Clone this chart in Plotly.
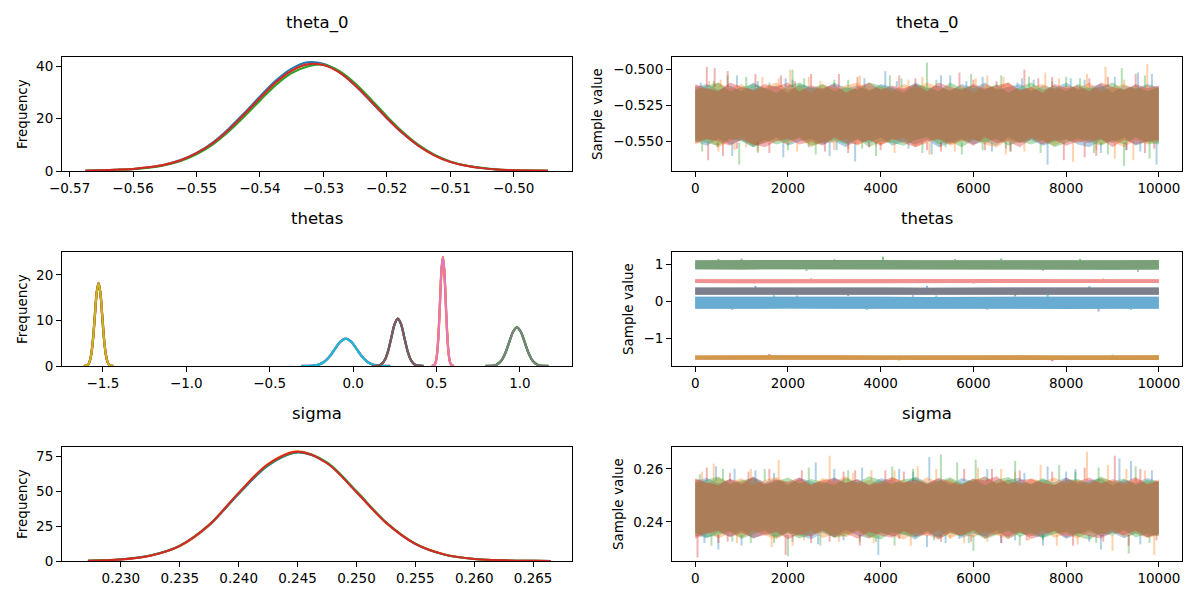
import numpy as np
import plotly.graph_objs as go

# matplotlib tab10 colours
blue, orange, green, red = '#1f77b4', '#ff7f0e', '#2ca02c', '#d62728'
purple, brown, pink, gray, olive, cyan = '#9467bd', '#8c564b', '#e377c2', '#7f7f7f', '#bcbd22', '#17becf'
chain_colors = [blue, orange, green, red]
ALPHA = 0.35

# ---------------- theta_0 : density per chain ----------------
theta0_kde_x = [-0.5675, -0.565, -0.5625, -0.56, -0.5575, -0.555, -0.5525, -0.55, -0.5475, -0.545,
                -0.5425, -0.54, -0.5375, -0.535, -0.5325, -0.53, -0.5275, -0.525, -0.5225, -0.52,
                -0.5175, -0.515, -0.5125, -0.51, -0.5075, -0.505, -0.5025, -0.50, -0.4975, -0.4946]
theta0_kde_0 = [0.1, 0.3, 0.5, 0.8, 1.4, 2.5, 4.2, 6.9, 10.8, 16.0, 22.1, 28.5, 34.6, 39.2, 41.6,
                41.0, 37.9, 32.7, 26.5, 20.2, 14.4, 9.6, 6.0, 3.5, 2.0, 1.1, 0.5, 0.25, 0.1, 0.05]
theta0_kde_1 = [0.1, 0.3, 0.5, 0.8, 1.4, 2.4, 4.0, 6.7, 10.4, 15.4, 21.4, 27.6, 33.6, 38.2, 40.7,
                40.6, 37.9, 33.0, 26.9, 20.5, 14.6, 9.7, 6.0, 3.5, 2.0, 1.1, 0.55, 0.3, 0.15, 0.05]
theta0_kde_2 = [0.1, 0.25, 0.45, 0.7, 1.2, 2.2, 3.8, 6.4, 10.0, 14.9, 20.7, 26.9, 32.8, 37.4, 40.0,
                40.6, 38.3, 33.6, 27.5, 21.0, 15.0, 10.0, 6.3, 3.7, 2.1, 1.2, 0.6, 0.3, 0.15, 0.05]
theta0_kde_3 = [0.1, 0.3, 0.5, 0.8, 1.4, 2.4, 4.1, 6.8, 10.5, 15.6, 21.6, 27.9, 33.9, 38.4, 40.8,
                40.5, 37.7, 32.8, 26.7, 20.3, 14.5, 9.65, 6.0, 3.5, 2.0, 1.1, 0.55, 0.3, 0.15, 0.05]

# ---------------- thetas : density per component ----------------
thetas_kde_x = [
    [-1.614, -1.592, -1.581, -1.570, -1.559, -1.548, -1.537, -1.526, -1.515, -1.504, -1.493, -1.482, -1.471, -1.460, -1.438],
    [-0.310, -0.2435, -0.2103, -0.177, -0.1438, -0.1105, -0.0773, -0.044, -0.0108, 0.0225, 0.0558, 0.089, 0.1223, 0.1555, 0.222],
    [0.1144, 0.1528, 0.172, 0.1912, 0.2104, 0.2296, 0.2488, 0.268, 0.2872, 0.3064, 0.3256, 0.3448, 0.364, 0.3832, 0.4216],
    [0.4716, 0.4882, 0.4965, 0.5048, 0.5131, 0.5214, 0.5297, 0.538, 0.5463, 0.5546, 0.5629, 0.5712, 0.5795, 0.5878, 0.6044],
    [0.7932, 0.8404, 0.864, 0.8876, 0.9112, 0.9348, 0.9584, 0.982, 1.0056, 1.0292, 1.0528, 1.0764, 1.1, 1.1236, 1.1708],
]
thetas_kde_y = [
    [0.006, 0.20, 0.80, 2.46, 5.91, 11.04, 16.06, 18.2, 16.06, 11.04, 5.91, 2.46, 0.80, 0.20, 0.006],
    [0.002, 0.067, 0.26, 0.81, 1.95, 3.64, 5.30, 6.0, 5.30, 3.64, 1.95, 0.81, 0.26, 0.067, 0.002],
    [0.003, 0.115, 0.46, 1.41, 3.38, 6.31, 9.18, 10.4, 9.18, 6.31, 3.38, 1.41, 0.46, 0.115, 0.003],
    [0.008, 0.27, 1.05, 3.23, 7.76, 14.50, 21.09, 23.9, 21.09, 14.50, 7.76, 3.23, 1.05, 0.27, 0.008],
    [0.003, 0.094, 0.37, 1.14, 2.74, 5.12, 7.46, 8.45, 7.46, 5.12, 2.74, 1.14, 0.37, 0.094, 0.003],
]
# colour for even chains / odd chains of each component
thetas_col_a = [red, purple, blue, orange, green]
thetas_col_b = [olive, cyan, brown, pink, gray]

# ---------------- sigma : density per chain ----------------
sigma_kde_x = [0.2272, 0.2300, 0.2325, 0.2350, 0.2375, 0.2400, 0.2425, 0.2450, 0.2475, 0.2500,
               0.2525, 0.2550, 0.2575, 0.2600, 0.2625, 0.2650, 0.2665]
sigma_kde_0 = [0.2, 1.1, 3.9, 10.8, 25.6, 48.2, 68.6, 78.0, 70.5, 49.8, 27.7, 12.2, 4.5, 1.4, 0.45, 0.15, 0.05]
sigma_kde_1 = [0.2, 1.1, 3.8, 10.7, 25.8, 49.0, 69.9, 78.9, 70.6, 49.6, 27.5, 12.4, 4.7, 1.5, 0.5, 0.2, 0.07]
sigma_kde_2 = [0.2, 1.2, 4.0, 11.1, 26.2, 48.8, 69.2, 78.3, 71.0, 50.3, 28.0, 12.5, 4.6, 1.5, 0.45, 0.12, 0.03]
sigma_kde_3 = [0.2, 1.1, 3.8, 10.9, 26.0, 49.0, 69.6, 78.5, 70.3, 49.5, 27.6, 12.3, 4.6, 1.5, 0.45, 0.15, 0.05]

# ---------------- traces: band envelope (every 250 draws) + spikes ----------------
DRAWS = [0, 250, 500, 750, 1000, 1250, 1500, 1750, 2000, 2250, 2500, 2750, 3000, 3250, 3500, 3750,
         4000, 4250, 4500, 4750, 5000, 5250, 5500, 5750, 6000, 6250, 6500, 6750, 7000, 7250, 7500,
         7750, 8000, 8250, 8500, 8750, 9000, 9250, 9500, 9750, 10000]

theta0_hi = [
    [-0.512, -0.510, -0.514, -0.511, -0.515, -0.509, -0.513, -0.511, -0.516, -0.510,
     -0.512, -0.514, -0.509, -0.513, -0.511, -0.515, -0.510, -0.512, -0.514, -0.509,
     -0.513, -0.511, -0.515, -0.510, -0.513, -0.509, -0.514, -0.512, -0.510, -0.515,
     -0.511, -0.513, -0.509, -0.514, -0.512, -0.510, -0.516, -0.511, -0.513, -0.510, -0.512],
    [-0.511, -0.514, -0.509, -0.513, -0.510, -0.515, -0.512, -0.509, -0.514, -0.511,
     -0.516, -0.510, -0.513, -0.511, -0.509, -0.514, -0.512, -0.515, -0.510, -0.513,
     -0.509, -0.512, -0.514, -0.511, -0.516, -0.510, -0.513, -0.509, -0.515, -0.512,
     -0.510, -0.514, -0.511, -0.513, -0.509, -0.515, -0.512, -0.510, -0.514, -0.511, -0.513],
    [-0.514, -0.511, -0.509, -0.515, -0.512, -0.510, -0.513, -0.516, -0.511, -0.509,
     -0.513, -0.510, -0.515, -0.512, -0.514, -0.509, -0.511, -0.513, -0.516, -0.510,
     -0.512, -0.515, -0.509, -0.513, -0.511, -0.514, -0.510, -0.516, -0.512, -0.509,
     -0.514, -0.511, -0.515, -0.510, -0.513, -0.512, -0.509, -0.514, -0.511, -0.515, -0.512],
    [-0.510, -0.513, -0.515, -0.509, -0.512, -0.514, -0.510, -0.512, -0.509, -0.515,
     -0.511, -0.513, -0.510, -0.516, -0.512, -0.509, -0.514, -0.511, -0.513, -0.510,
     -0.515, -0.509, -0.512, -0.514, -0.510, -0.513, -0.511, -0.509, -0.514, -0.512,
     -0.516, -0.510, -0.513, -0.511, -0.515, -0.509, -0.512, -0.514, -0.510, -0.513, -0.511]]
theta0_lo = [
    [-0.550, -0.553, -0.548, -0.552, -0.549, -0.554, -0.551, -0.547, -0.553, -0.550,
     -0.548, -0.552, -0.550, -0.554, -0.549, -0.551, -0.547, -0.553, -0.550, -0.552,
     -0.549, -0.554, -0.551, -0.548, -0.552, -0.550, -0.553, -0.547, -0.551, -0.549,
     -0.553, -0.550, -0.548, -0.552, -0.554, -0.549, -0.551, -0.547, -0.553, -0.550, -0.551],
    [-0.552, -0.549, -0.554, -0.550, -0.547, -0.553, -0.551, -0.549, -0.552, -0.548,
     -0.554, -0.550, -0.551, -0.548, -0.553, -0.549, -0.552, -0.550, -0.547, -0.554,
     -0.551, -0.549, -0.553, -0.550, -0.548, -0.552, -0.554, -0.549, -0.551, -0.547,
     -0.550, -0.553, -0.549, -0.551, -0.548, -0.552, -0.550, -0.554, -0.549, -0.552, -0.550],
    [-0.549, -0.551, -0.553, -0.548, -0.550, -0.554, -0.549, -0.552, -0.550, -0.547,
     -0.553, -0.551, -0.549, -0.552, -0.548, -0.554, -0.550, -0.551, -0.553, -0.549,
     -0.547, -0.552, -0.550, -0.554, -0.549, -0.551, -0.548, -0.553, -0.550, -0.552,
     -0.549, -0.554, -0.551, -0.548, -0.550, -0.553, -0.549, -0.552, -0.547, -0.551, -0.552],
    [-0.551, -0.548, -0.550, -0.553, -0.549, -0.552, -0.554, -0.550, -0.548, -0.552,
     -0.550, -0.553, -0.547, -0.551, -0.552, -0.549, -0.553, -0.548, -0.551, -0.554,
     -0.550, -0.548, -0.552, -0.549, -0.553, -0.547, -0.551, -0.550, -0.554, -0.548,
     -0.552, -0.549, -0.553, -0.550, -0.551, -0.548, -0.554, -0.549, -0.552, -0.550, -0.549]]
theta0_spk_it_0 = [120, 480, 800, 900, 1350, 1900, 1950, 2450, 2900, 3450, 3650, 4100, 4600, 5100, 5500,
                   5850, 6200, 6400, 6950, 7300, 7600, 8100, 8750, 9050, 9550, 9600, 9850, 9950,
                   2100, 3050, 4350, 5300, 6700, 7050, 8400, 9300]
theta0_spk_val_0 = [-0.509, -0.554, -0.560, -0.504, -0.508, -0.561, -0.506, -0.554, -0.560, -0.564, -0.506,
                    -0.501, -0.555, -0.559, -0.504, -0.508, -0.505, -0.557, -0.509, -0.507, -0.566, -0.506,
                    -0.558, -0.505, -0.502, -0.557, -0.503, -0.566,
                    -0.507, -0.556, -0.508, -0.504, -0.555, -0.506, -0.507, -0.556]
theta0_spk_it_1 = [300, 500, 550, 1100, 1350, 1450, 2050, 2200, 2700, 3000, 3550, 3900, 4300, 4900, 5300,
                   5600, 6050, 6650, 6700, 7100, 7550, 8150, 8450, 8850, 9050, 9450, 9750,
                   850, 1800, 2450, 3300, 4600, 5050, 6300, 7850, 8650, 9250]
theta0_spk_val_1 = [-0.508, -0.557, -0.507, -0.554, -0.558, -0.505, -0.500, -0.557, -0.508, -0.556, -0.504,
                    -0.553, -0.558, -0.505, -0.554, -0.557, -0.506, -0.505, -0.559, -0.557, -0.502, -0.564,
                    -0.503, -0.498, -0.562, -0.563, -0.496,
                    -0.556, -0.506, -0.505, -0.555, -0.507, -0.559, -0.504, -0.506, -0.556, -0.507]
theta0_spk_it_2 = [150, 400, 950, 1100, 1600, 2000, 2100, 2600, 3000, 3300, 3900, 4450, 4900, 5000, 5400,
                   5750, 5950, 6600, 6800, 7200, 7700, 8300, 8900, 9200, 9250, 9700, 9800,
                   700, 1350, 2350, 3600, 4200, 5200, 6200, 7450, 8000, 8600]
theta0_spk_val_2 = [-0.557, -0.508, -0.566, -0.505, -0.509, -0.556, -0.500, -0.559, -0.507, -0.507, -0.560,
                    -0.506, -0.558, -0.495, -0.554, -0.559, -0.503, -0.504, -0.557, -0.505, -0.508, -0.506,
                    -0.559, -0.499, -0.567, -0.504, -0.562,
                    -0.504, -0.557, -0.506, -0.555, -0.504, -0.507, -0.556, -0.558, -0.505, -0.558]
theta0_spk_it_3 = [250, 280, 420, 600, 700, 1300, 1600, 2150, 2500, 3100, 3300, 3750, 4000, 4750, 5300,
                   5700, 6250, 6500, 7100, 7700, 7950, 8400, 8500, 8650, 9300, 9500, 9900,
                   900, 1850, 2800, 3500, 4400, 5000, 6000, 6800, 7400, 8900, 9700]
theta0_spk_val_3 = [-0.498, -0.563, -0.499, -0.560, -0.501, -0.503, -0.558, -0.508, -0.503, -0.503, -0.558,
                    -0.554, -0.556, -0.506, -0.557, -0.502, -0.556, -0.508, -0.500, -0.505, -0.563, -0.561,
                    -0.506, -0.560, -0.556, -0.503, -0.555,
                    -0.555, -0.504, -0.557, -0.505, -0.504, -0.556, -0.507, -0.557, -0.506, -0.505, -0.558]

sigma_hi = [
    [0.2556, 0.2566, 0.2545, 0.2561, 0.2540, 0.2570, 0.2551, 0.2563, 0.2538, 0.2567,
     0.2553, 0.2544, 0.2568, 0.2550, 0.2560, 0.2541, 0.2565, 0.2555, 0.2546, 0.2571,
     0.2549, 0.2562, 0.2539, 0.2566, 0.2552, 0.2572, 0.2543, 0.2558, 0.2567, 0.2540,
     0.2561, 0.2550, 0.2569, 0.2544, 0.2557, 0.2564, 0.2537, 0.2560, 0.2548, 0.2566, 0.2553],
    [0.2562, 0.2543, 0.2568, 0.2551, 0.2565, 0.2539, 0.2558, 0.2570, 0.2547, 0.2560,
     0.2538, 0.2566, 0.2552, 0.2572, 0.2545, 0.2559, 0.2541, 0.2567, 0.2554, 0.2544,
     0.2569, 0.2550, 0.2563, 0.2542, 0.2557, 0.2571, 0.2548, 0.2561, 0.2539, 0.2565,
     0.2552, 0.2568, 0.2545, 0.2559, 0.2541, 0.2566, 0.2554, 0.2540, 0.2563, 0.2549, 0.2560],
    [0.2548, 0.2560, 0.2571, 0.2542, 0.2557, 0.2565, 0.2540, 0.2553, 0.2568, 0.2545,
     0.2562, 0.2551, 0.2539, 0.2566, 0.2549, 0.2572, 0.2556, 0.2543, 0.2561, 0.2567,
     0.2541, 0.2555, 0.2569, 0.2546, 0.2563, 0.2538, 0.2559, 0.2570, 0.2550, 0.2544,
     0.2566, 0.2540, 0.2557, 0.2562, 0.2547, 0.2571, 0.2552, 0.2564, 0.2539, 0.2558, 0.2550],
    [0.2565, 0.2550, 0.2539, 0.2563, 0.2548, 0.2571, 0.2544, 0.2559, 0.2552, 0.2569,
     0.2541, 0.2557, 0.2566, 0.2546, 0.2562, 0.2538, 0.2553, 0.2570, 0.2549, 0.2560,
     0.2544, 0.2567, 0.2551, 0.2540, 0.2564, 0.2556, 0.2572, 0.2543, 0.2558, 0.2562,
     0.2547, 0.2539, 0.2565, 0.2553, 0.2568, 0.2545, 0.2561, 0.2550, 0.2570, 0.2541, 0.2556]]
sigma_lo = [
    [0.2350, 0.2338, 0.2361, 0.2344, 0.2367, 0.2336, 0.2355, 0.2341, 0.2364, 0.2347,
     0.2334, 0.2358, 0.2343, 0.2369, 0.2349, 0.2337, 0.2362, 0.2346, 0.2353, 0.2333,
     0.2360, 0.2342, 0.2366, 0.2339, 0.2354, 0.2345, 0.2368, 0.2335, 0.2357, 0.2348,
     0.2340, 0.2363, 0.2336, 0.2351, 0.2370, 0.2344, 0.2359, 0.2338, 0.2356, 0.2343, 0.2352],
    [0.2343, 0.2362, 0.2337, 0.2356, 0.2340, 0.2366, 0.2348, 0.2334, 0.2359, 0.2345,
     0.2368, 0.2339, 0.2353, 0.2342, 0.2363, 0.2336, 0.2357, 0.2347, 0.2333, 0.2361,
     0.2344, 0.2369, 0.2338, 0.2355, 0.2341, 0.2364, 0.2350, 0.2335, 0.2358, 0.2346,
     0.2367, 0.2340, 0.2354, 0.2337, 0.2362, 0.2349, 0.2371, 0.2343, 0.2356, 0.2339, 0.2348],
    [0.2358, 0.2341, 0.2349, 0.2365, 0.2335, 0.2353, 0.2368, 0.2340, 0.2357, 0.2337,
     0.2351, 0.2364, 0.2339, 0.2347, 0.2370, 0.2344, 0.2333, 0.2360, 0.2352, 0.2342,
     0.2366, 0.2336, 0.2356, 0.2346, 0.2361, 0.2334, 0.2350, 0.2367, 0.2343, 0.2359,
     0.2338, 0.2354, 0.2363, 0.2345, 0.2332, 0.2357, 0.2348, 0.2369, 0.2341, 0.2355, 0.2346],
    [0.2336, 0.2355, 0.2367, 0.2342, 0.2358, 0.2339, 0.2350, 0.2363, 0.2334, 0.2354,
     0.2345, 0.2368, 0.2341, 0.2357, 0.2336, 0.2362, 0.2348, 0.2340, 0.2365, 0.2344,
     0.2353, 0.2333, 0.2359, 0.2347, 0.2369, 0.2338, 0.2356, 0.2343, 0.2364, 0.2335,
     0.2351, 0.2366, 0.2340, 0.2358, 0.2346, 0.2337, 0.2361, 0.2349, 0.2367, 0.2342, 0.2354]]
sigma_spk_it_0 = [450, 500, 850, 1000, 1700, 2600, 2650, 3200, 3600, 3950, 4400, 5000, 5050, 5700, 6300,
                  6600, 7100, 7500, 7600, 8200, 8750, 9150, 9400, 9600,
                  200, 1300, 2100, 3000, 4700, 5400, 6900, 8000, 8500, 9850]
sigma_spk_val_0 = [0.2610, 0.2295, 0.2600, 0.2310, 0.2585, 0.2625, 0.2315, 0.2330, 0.2605, 0.2275, 0.2600,
                   0.2305, 0.2645, 0.2335, 0.2600, 0.2320, 0.2585, 0.2310, 0.2610, 0.2600, 0.2295, 0.2640,
                   0.2630, 0.2315,
                   0.2320, 0.2595, 0.2325, 0.2600, 0.2590, 0.2320, 0.2330, 0.2590, 0.2325, 0.2595]
sigma_spk_it_1 = [400, 900, 1650, 1800, 2350, 2900, 3400, 3800, 3850, 4650, 4800, 5500, 6100, 6300, 6900,
                  7450, 7800, 8250, 8450, 8900, 9000, 9700, 9900,
                  150, 1200, 2100, 3100, 4300, 5200, 5800, 6600, 7200, 9300]
sigma_spk_val_1 = [0.2620, 0.2320, 0.2305, 0.2635, 0.2330, 0.2650, 0.2585, 0.2595, 0.2320, 0.2310, 0.2610,
                   0.2335, 0.2605, 0.2325, 0.2590, 0.2615, 0.2310, 0.2315, 0.2665, 0.2615, 0.2290, 0.2595,
                   0.2275,
                   0.2590, 0.2600, 0.2310, 0.2325, 0.2595, 0.2600, 0.2320, 0.2600, 0.2330, 0.2600]
sigma_spk_it_2 = [100, 350, 1200, 1500, 2000, 2700, 3300, 3550, 4250, 4300, 5150, 5300, 5650, 6000, 6050,
                  6900, 7000, 7850, 8650, 8700, 9350, 9500,
                  600, 800, 1700, 2450, 3900, 4700, 5900, 7500, 8200, 9800]
sigma_spk_val_2 = [0.2580, 0.2310, 0.2320, 0.2600, 0.2270, 0.2310, 0.2595, 0.2325, 0.2610, 0.2310, 0.2330,
                   0.2655, 0.2625, 0.2290, 0.2635, 0.2630, 0.2310, 0.2615, 0.2320, 0.2605, 0.2280, 0.2610,
                   0.2600, 0.2325, 0.2320, 0.2605, 0.2325, 0.2600, 0.2320, 0.2330, 0.2590, 0.2320]
sigma_spk_it_3 = [50, 250, 700, 750, 1150, 1950, 2300, 2500, 3450, 3550, 4400, 4500, 5800, 5950, 7000,
                  7150, 8150, 8400, 9050, 9350, 9600, 9950,
                  500, 1600, 2900, 3200, 4100, 5300, 6400, 6600, 7700, 8800]
sigma_spk_val_3 = [0.2265, 0.2605, 0.2325, 0.2585, 0.2590, 0.2275, 0.2595, 0.2320, 0.2595, 0.2310, 0.2335,
                   0.2590, 0.2600, 0.2325, 0.2595, 0.2330, 0.2310, 0.2605, 0.2650, 0.2310, 0.2600, 0.2330,
                   0.2320, 0.2600, 0.2325, 0.2590, 0.2595, 0.2325, 0.2600, 0.2320, 0.2590, 0.2325]

# thetas trace: one envelope per component (every 1000 draws, all chains overlap)
THETAS_DRAWS = [0, 1000, 2000, 3000, 4000, 5000, 6000, 7000, 8000, 9000, 10000]
thetas_hi = [[-1.465, -1.460, -1.465, -1.462, -1.466, -1.460, -1.464, -1.461, -1.465, -1.462, -1.464],
             [0.115, 0.120, 0.112, 0.118, 0.121, 0.114, 0.119, 0.113, 0.120, 0.116, 0.118],
             [0.365, 0.370, 0.362, 0.368, 0.371, 0.364, 0.369, 0.363, 0.370, 0.366, 0.368],
             [0.592, 0.595, 0.590, 0.594, 0.591, 0.596, 0.592, 0.594, 0.590, 0.595, 0.593],
             [1.105, 1.110, 1.100, 1.108, 1.112, 1.104, 1.109, 1.102, 1.110, 1.106, 1.108]]
thetas_lo = [[-1.585, -1.590, -1.586, -1.588, -1.584, -1.590, -1.587, -1.589, -1.585, -1.588, -1.586],
             [-0.205, -0.210, -0.202, -0.208, -0.212, -0.204, -0.209, -0.203, -0.215, -0.206, -0.208],
             [0.175, 0.170, 0.178, 0.172, 0.169, 0.176, 0.171, 0.177, 0.170, 0.174, 0.172],
             [0.488, 0.485, 0.490, 0.486, 0.489, 0.484, 0.488, 0.486, 0.490, 0.485, 0.487],
             [0.860, 0.855, 0.862, 0.857, 0.853, 0.861, 0.856, 0.859, 0.854, 0.850, 0.857]]
thetas_spk_it = [[1600, 4400, 7700, 9000],
                 [800, 1700, 2200, 3700, 4700, 5200, 6300, 7600, 8700, 9400],
                 [1300, 3300, 5000, 6900, 8500],
                 [2500, 6000, 8800],
                 [500, 1000, 2400, 3000, 4050, 5600, 6600, 7500, 8300, 9550]]
thetas_spk_val = [[-1.43, -1.61, -1.62, -1.44],
                  [-0.24, 0.16, 0.15, -0.24, 0.16, 0.15, -0.23, 0.17, -0.28, -0.24],
                  [0.41, 0.14, 0.41, 0.13, 0.40],
                  [0.62, 0.47, 0.61],
                  [1.14, 1.15, 0.82, 1.13, 1.20, 1.14, 1.15, 0.82, 1.14, 0.79]]

# ---------------- ticks ----------------
theta0_xticks = [-0.57, -0.56, -0.55, -0.54, -0.53, -0.52, -0.51, -0.50]
theta0_yticks = [0, 20, 40]
thetas_xticks = [-1.5, -1.0, -0.5, 0.0, 0.5, 1.0]
thetas_yticks = [0, 10, 20]
sigma_xticks = [0.230, 0.235, 0.240, 0.245, 0.250, 0.255, 0.260, 0.265]
sigma_yticks = [0, 25, 50, 75]
draw_ticks = [0, 2000, 4000, 6000, 8000, 10000]
theta0_trace_ticks = [-0.550, -0.525, -0.500]
thetas_trace_ticks = [-1, 0, 1]
sigma_trace_ticks = [0.24, 0.26]


def rgba(hexcol, a):
    h = hexcol.lstrip('#')
    r, g, b = int(h[0:2], 16), int(h[2:4], 16), int(h[4:6], 16)
    return f'rgba({r},{g},{b},{a})'


def axref(n):
    return ('x', 'y') if n == 1 else (f'x{n}', f'y{n}')


def add_density(fig, n, xs, ys, color, width=2.0):
    xa, ya = axref(n)
    fig.add_trace(go.Scatter(x=xs, y=ys, mode='lines', xaxis=xa, yaxis=ya,
                             line=dict(color=color, width=width, shape='spline', smoothing=0.9),
                             showlegend=False, hoverinfo='skip'))


def add_band(fig, n, draws, hi, lo, color):
    xa, ya = axref(n)
    fig.add_trace(go.Scatter(x=list(draws) + list(draws)[::-1], y=list(hi) + list(lo)[::-1],
                             mode='lines', fill='toself', fillcolor=rgba(color, ALPHA),
                             line=dict(width=0, color=rgba(color, 0)), xaxis=xa, yaxis=ya,
                             showlegend=False, hoverinfo='skip'))


def add_spikes(fig, n, its, vals, hi, lo, color):
    # each spike starts at the edge of the band it leaves
    xa, ya = axref(n)
    top, bottom = np.mean(hi), np.mean(lo)
    mid = (top + bottom) / 2
    xs, ys = [], []
    for it, v in zip(its, vals):
        xs += [it, it, None]
        ys += [top if v > mid else bottom, v, None]
    fig.add_trace(go.Scatter(x=xs, y=ys, mode='lines', xaxis=xa, yaxis=ya,
                             line=dict(color=rgba(color, ALPHA), width=2),
                             showlegend=False, hoverinfo='skip'))


fig = go.Figure()

# left column: densities
for c, ys in enumerate([theta0_kde_0, theta0_kde_1, theta0_kde_2, theta0_kde_3]):
    add_density(fig, 1, theta0_kde_x, ys, chain_colors[c])

for chain in range(4):
    for k in range(len(thetas_kde_x)):
        if chain % 2 == 0:
            add_density(fig, 3, thetas_kde_x[k], thetas_kde_y[k], thetas_col_a[k], 2.3)
        else:
            add_density(fig, 3, thetas_kde_x[k], thetas_kde_y[k], thetas_col_b[k], 2.0)

for c, ys in enumerate([sigma_kde_0, sigma_kde_1, sigma_kde_2, sigma_kde_3]):
    add_density(fig, 5, sigma_kde_x, ys, chain_colors[c])

# right column: traces
t0_spikes = [(theta0_spk_it_0, theta0_spk_val_0), (theta0_spk_it_1, theta0_spk_val_1),
             (theta0_spk_it_2, theta0_spk_val_2), (theta0_spk_it_3, theta0_spk_val_3)]
for c in range(4):
    add_band(fig, 2, DRAWS, theta0_hi[c], theta0_lo[c], chain_colors[c])
    add_spikes(fig, 2, t0_spikes[c][0], t0_spikes[c][1], theta0_hi[c], theta0_lo[c], chain_colors[c])

for chain in range(4):
    for k in range(len(thetas_hi)):
        col = thetas_col_a[k] if chain % 2 == 0 else thetas_col_b[k]
        add_band(fig, 4, THETAS_DRAWS, thetas_hi[k], thetas_lo[k], col)
        half = chain % 2
        add_spikes(fig, 4, thetas_spk_it[k][half::2], thetas_spk_val[k][half::2],
                   thetas_hi[k], thetas_lo[k], col)

s_spikes = [(sigma_spk_it_0, sigma_spk_val_0), (sigma_spk_it_1, sigma_spk_val_1),
            (sigma_spk_it_2, sigma_spk_val_2), (sigma_spk_it_3, sigma_spk_val_3)]
for c in range(4):
    add_band(fig, 6, DRAWS, sigma_hi[c], sigma_lo[c], chain_colors[c])
    add_spikes(fig, 6, s_spikes[c][0], s_spikes[c][1], sigma_hi[c], sigma_lo[c], chain_colors[c])

# ---------------- layout ----------------
# the page body keeps an 8px margin, so the figure is a little smaller than the window
PAGE_W, PAGE_H, BODY = 1200, 600, 8
W, H = PAGE_W - 2 * BODY, PAGE_H - 2 * BODY


def px(x):
    return (x - BODY) / W


def py(y):
    return 1 - (y - BODY) / H


col_x = [[px(62), px(572)], [px(672), px(1182)]]
row_y = [[py(171), py(57)], [py(366), py(252)], [py(561), py(447)]]


def axis(domain, rng, tickvals, fmt, anchor):
    return dict(domain=domain, range=rng, tickvals=tickvals, tickformat=fmt, anchor=anchor,
                showline=True, mirror=True, linecolor='black', linewidth=1,
                ticks='outside', ticklen=5, tickwidth=1, tickcolor='black',
                showgrid=False, zeroline=False, fixedrange=True, automargin=False,
                tickfont=dict(size=13.5, color='black', family='DejaVu Sans'))


panels = [
    # n, row, col, xrange, xticks, xfmt, yrange, yticks, yfmt
    (1, 0, 0, [-0.5712, -0.4908], theta0_xticks, '.2f', [0, 43.6], theta0_yticks, 'd'),
    (2, 0, 1, [-500, 10499], draw_ticks, 'd', [-0.5705, -0.4912], theta0_trace_ticks, '.3f'),
    (3, 1, 0, [-1.745, 1.312], thetas_xticks, '.1f', [0, 25.0], thetas_yticks, 'd'),
    (4, 1, 1, [-500, 10499], draw_ticks, 'd', [-1.751, 1.326], thetas_trace_ticks, 'd'),
    (5, 2, 0, [0.2250, 0.2683], sigma_xticks, '.3f', [0, 82], sigma_yticks, 'd'),
    (6, 2, 1, [-500, 10499], draw_ticks, 'd', [0.2252, 0.2683], sigma_trace_ticks, '.2f'),
]

layout = dict(width=W, height=H, autosize=False, margin=dict(l=0, r=0, t=0, b=0),
              template='none', paper_bgcolor='white', plot_bgcolor='white', showlegend=False,
              font=dict(family='DejaVu Sans', color='black'))
for n, r, c, xr, xt, xf, yr, yt, yf in panels:
    xa, ya = axref(n)
    xkey = 'xaxis' if n == 1 else f'xaxis{n}'
    ykey = 'yaxis' if n == 1 else f'yaxis{n}'
    layout[xkey] = axis(col_x[c], xr, xt, xf, ya)
    layout[ykey] = axis(row_y[r], yr, yt, yf, xa)

titles = ['theta_0', 'thetas', 'sigma']
title_y = [23, 218, 413]
label_x_right = [597, 628, 618]
annotations = []
for r in range(3):
    for c in range(2):
        annotations.append(dict(text=titles[r], xref='paper', yref='paper',
                                x=(col_x[c][0] + col_x[c][1]) / 2, y=py(title_y[r]),
                                xanchor='center', yanchor='middle', showarrow=False,
                                font=dict(size=16.5, color='black', family='DejaVu Sans')))
    ymid = (row_y[r][0] + row_y[r][1]) / 2
    annotations.append(dict(text='Frequency', xref='paper', yref='paper', x=px(22), y=ymid,
                            textangle=-90, xanchor='center', yanchor='middle', showarrow=False,
                            font=dict(size=13.5, color='black', family='DejaVu Sans')))
    annotations.append(dict(text='Sample value', xref='paper', yref='paper',
                            x=px(label_x_right[r]), y=ymid,
                            textangle=-90, xanchor='center', yanchor='middle', showarrow=False,
                            font=dict(size=13.5, color='black', family='DejaVu Sans')))
layout['annotations'] = annotations

fig.update_layout(**layout)
fig.write_html("out.html")
